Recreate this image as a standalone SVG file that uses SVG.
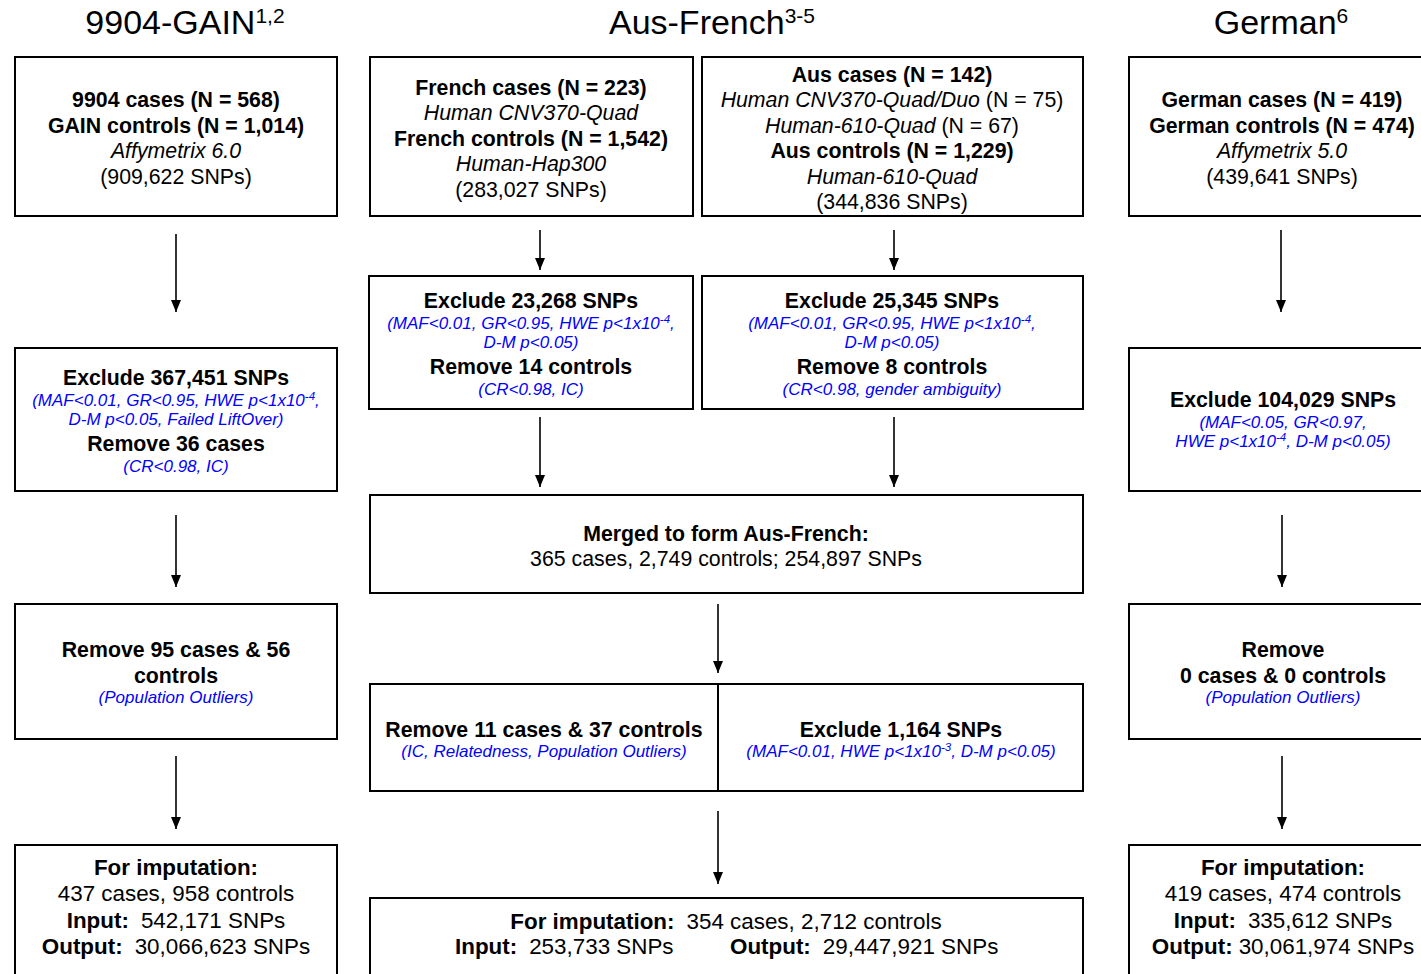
<svg xmlns="http://www.w3.org/2000/svg" width="1421" height="974" viewBox="0 0 1421 974">
<style>
text{font-family:"Liberation Sans",Arial,sans-serif;fill:#000;text-anchor:middle}
.t{font-size:34px}
.st{font-size:21px}
.b{font-size:21.3px;font-weight:bold}
.r{font-size:21.3px}
.f{font-size:22.4px}
.i{font-style:italic}
.bl{font-size:17px;font-style:italic;fill:#0000ff}
.sup{font-size:11.5px}
.box{fill:#fff;stroke:#000;stroke-width:2}
.c{stroke:#000;stroke-width:1.6;fill:none}
.n{font-weight:normal}
</style>
<defs>
<marker id="ah" viewBox="0 0 12 10" refX="12" refY="5" markerWidth="12" markerHeight="10" markerUnits="userSpaceOnUse" orient="auto">
<path d="M0,0 L12,5 L0,10 Z" fill="#000"/>
</marker>
</defs>
<rect width="1421" height="974" fill="#fff"/>
<g id="titles">
<text class="t" x="185" y="34">9904-GAIN<tspan class="st" dy="-11">1,2</tspan></text>
<text class="t" x="712" y="34">Aus-French<tspan class="st" dy="-11">3-5</tspan></text>
<text class="t" x="1281" y="34">German<tspan class="st" dy="-11">6</tspan></text>
</g>
<g id="connectors">
<line class="c" x1="176" y1="234" x2="176" y2="312" marker-end="url(#ah)"/>
<line class="c" x1="176" y1="515" x2="176" y2="587" marker-end="url(#ah)"/>
<line class="c" x1="176" y1="756" x2="176" y2="829" marker-end="url(#ah)"/>
<line class="c" x1="540" y1="230" x2="540" y2="270" marker-end="url(#ah)"/>
<line class="c" x1="894" y1="230" x2="894" y2="270" marker-end="url(#ah)"/>
<line class="c" x1="540" y1="417" x2="540" y2="487" marker-end="url(#ah)"/>
<line class="c" x1="894" y1="417" x2="894" y2="487" marker-end="url(#ah)"/>
<line class="c" x1="718" y1="604" x2="718" y2="673" marker-end="url(#ah)"/>
<line class="c" x1="718" y1="811" x2="718" y2="884" marker-end="url(#ah)"/>
<line class="c" x1="1281" y1="230" x2="1281" y2="312" marker-end="url(#ah)"/>
<line class="c" x1="1282" y1="515" x2="1282" y2="587" marker-end="url(#ah)"/>
<line class="c" x1="1282" y1="756" x2="1282" y2="829" marker-end="url(#ah)"/>
</g>
<g id="gain-start">
<rect class="box" x="15" y="57" width="322" height="159"/>
<text class="b" x="176" y="107">9904 cases (N = 568)</text>
<text class="b" x="176" y="133">GAIN controls (N = 1,014)</text>
<text class="r i" x="176" y="158">Affymetrix 6.0</text>
<text class="r" x="176" y="184">(909,622 SNPs)</text>
</g>
<g id="gain-exclude">
<rect class="box" x="15" y="348" width="322" height="143"/>
<text class="b" x="176" y="385">Exclude 367,451 SNPs</text>
<text class="bl" x="176" y="406">(MAF&lt;0.01, GR&lt;0.95, HWE p&lt;1x10<tspan class="sup" dy="-6">-4</tspan><tspan dy="6">,</tspan></text>
<text class="bl" x="176" y="425">D-M p&lt;0.05, Failed LiftOver)</text>
<text class="b" x="176" y="451">Remove 36 cases</text>
<text class="bl" x="176" y="472">(CR&lt;0.98, IC)</text>
</g>
<g id="gain-outliers">
<rect class="box" x="15" y="604" width="322" height="135"/>
<text class="b" x="176" y="657">Remove 95 cases &amp; 56</text>
<text class="b" x="176" y="683">controls</text>
<text class="bl" x="176" y="703">(Population Outliers)</text>
</g>
<g id="gain-final">
<rect class="box" x="15" y="845" width="322" height="140"/>
<text class="f" x="176" y="875" font-weight="bold">For imputation:</text>
<text class="f" x="176" y="901">437 cases, 958 controls</text>
<text class="f" x="176" y="928" font-weight="bold">Input:<tspan class="n" dx="12">542,171 SNPs</tspan></text>
<text class="f" x="176" y="954" font-weight="bold">Output:<tspan class="n" dx="12">30,066,623 SNPs</tspan></text>
</g>
<g id="french-start">
<rect class="box" x="370" y="57" width="323" height="159"/>
<text class="b" x="531" y="95">French cases (N = 223)</text>
<text class="r i" x="531" y="120">Human CNV370-Quad</text>
<text class="b" x="531" y="146">French controls (N = 1,542)</text>
<text class="r i" x="531" y="171">Human-Hap300</text>
<text class="r" x="531" y="197">(283,027 SNPs)</text>
</g>
<g id="aus-start">
<rect class="box" x="702" y="57" width="381" height="159"/>
<text class="b" x="892" y="82">Aus cases (N = 142)</text>
<text class="r" x="892" y="107"><tspan class="i">Human CNV370-Quad/Duo</tspan> (N = 75)</text>
<text class="r" x="892" y="133"><tspan class="i">Human-610-Quad</tspan> (N = 67)</text>
<text class="b" x="892" y="158">Aus controls (N = 1,229)</text>
<text class="r i" x="892" y="184">Human-610-Quad</text>
<text class="r" x="892" y="209">(344,836 SNPs)</text>
</g>
<g id="french-exclude">
<rect class="box" x="369" y="276" width="324" height="133"/>
<text class="b" x="531" y="308">Exclude 23,268 SNPs</text>
<text class="bl" x="531" y="329">(MAF&lt;0.01, GR&lt;0.95, HWE p&lt;1x10<tspan class="sup" dy="-6">-4</tspan><tspan dy="6">,</tspan></text>
<text class="bl" x="531" y="348">D-M p&lt;0.05)</text>
<text class="b" x="531" y="374">Remove 14 controls</text>
<text class="bl" x="531" y="395">(CR&lt;0.98, IC)</text>
</g>
<g id="aus-exclude">
<rect class="box" x="702" y="276" width="381" height="133"/>
<text class="b" x="892" y="308">Exclude 25,345 SNPs</text>
<text class="bl" x="892" y="329">(MAF&lt;0.01, GR&lt;0.95, HWE p&lt;1x10<tspan class="sup" dy="-6">-4</tspan><tspan dy="6">,</tspan></text>
<text class="bl" x="892" y="348">D-M p&lt;0.05)</text>
<text class="b" x="892" y="374">Remove 8 controls</text>
<text class="bl" x="892" y="395">(CR&lt;0.98, gender ambiguity)</text>
</g>
<g id="merged">
<rect class="box" x="370" y="495" width="713" height="98"/>
<text class="b" x="726" y="541">Merged to form Aus-French:</text>
<text class="r" x="726" y="566">365 cases, 2,749 controls; 254,897 SNPs</text>
</g>
<g id="ausfrench-qc">
<rect class="box" x="370" y="684" width="713" height="107"/>
<line x1="718" y1="684" x2="718" y2="791" stroke="#000" stroke-width="2"/>
<text class="b" x="544" y="737">Remove 11 cases &amp; 37 controls</text>
<text class="bl" x="544" y="757">(IC, Relatedness, Population Outliers)</text>
<text class="b" x="901" y="737">Exclude 1,164 SNPs</text>
<text class="bl" x="901" y="757">(MAF&lt;0.01, HWE p&lt;1x10<tspan class="sup" dy="-6">-3</tspan><tspan dy="6">, D-M p&lt;0.05)</tspan></text>
</g>
<g id="ausfrench-final">
<rect class="box" x="370" y="898" width="713" height="90"/>
<text class="f" x="726" y="929" font-weight="bold">For imputation:<tspan class="n" dx="12">354 cases, 2,712 controls</tspan></text>
<text class="f" x="455" y="954" font-weight="bold" style="text-anchor:start">Input:<tspan class="n" dx="12">253,733 SNPs</tspan></text>
<text class="f" x="730" y="954" font-weight="bold" style="text-anchor:start">Output:<tspan class="n" dx="12">29,447,921 SNPs</tspan></text>
</g>
<g id="german-start">
<rect class="box" x="1129" y="57" width="300" height="159"/>
<text class="b" x="1282" y="107">German cases (N = 419)</text>
<text class="b" x="1282" y="133">German controls (N = 474)</text>
<text class="r i" x="1282" y="158">Affymetrix 5.0</text>
<text class="r" x="1282" y="184">(439,641 SNPs)</text>
</g>
<g id="german-exclude">
<rect class="box" x="1129" y="348" width="300" height="143"/>
<text class="b" x="1283" y="407">Exclude 104,029 SNPs</text>
<text class="bl" x="1283" y="428">(MAF&lt;0.05, GR&lt;0.97,</text>
<text class="bl" x="1283" y="447">HWE p&lt;1x10<tspan class="sup" dy="-6">-4</tspan><tspan dy="6">, D-M p&lt;0.05)</tspan></text>
</g>
<g id="german-outliers">
<rect class="box" x="1129" y="604" width="300" height="135"/>
<text class="b" x="1283" y="657">Remove</text>
<text class="b" x="1283" y="683">0 cases &amp; 0 controls</text>
<text class="bl" x="1283" y="703">(Population Outliers)</text>
</g>
<g id="german-final">
<rect class="box" x="1129" y="845" width="300" height="140"/>
<text class="f" x="1283" y="875" font-weight="bold">For imputation:</text>
<text class="f" x="1283" y="901">419 cases, 474 controls</text>
<text class="f" x="1283" y="928" font-weight="bold">Input:<tspan class="n" dx="12">335,612 SNPs</tspan></text>
<text class="f" x="1283" y="954" font-weight="bold">Output:<tspan class="n" dx="6">30,061,974 SNPs</tspan></text>
</g>
</svg>
